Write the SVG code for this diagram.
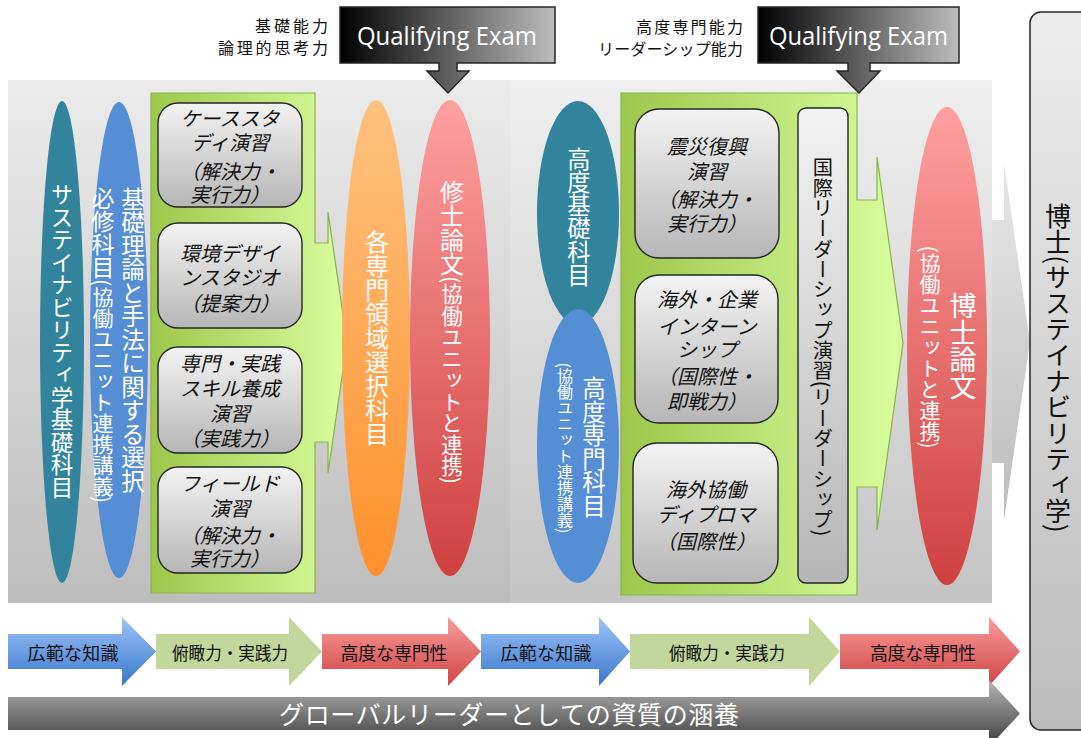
<svg xmlns="http://www.w3.org/2000/svg" width="1081" height="738" viewBox="0 0 1081 738">
<defs>
<linearGradient id="gPanelL" x1="0" y1="0" x2="0" y2="1"><stop offset="0" stop-color="#ebebeb"/><stop offset="1" stop-color="#bdbdbd"/></linearGradient>
<linearGradient id="gPanelR" x1="0" y1="0" x2="0" y2="1"><stop offset="0" stop-color="#efefef"/><stop offset="1" stop-color="#c4c4c4"/></linearGradient>
<linearGradient id="gBig" x1="0" y1="0" x2="0" y2="1"><stop offset="0" stop-color="#e6e6e6"/><stop offset="1" stop-color="#bcbcbc"/></linearGradient>
<linearGradient id="gGreen" x1="0" y1="0" x2="1" y2="0"><stop offset="0" stop-color="#9dc74c"/><stop offset="1" stop-color="#d9ff9f"/></linearGradient>
<linearGradient id="gBox" x1="0" y1="0" x2="0" y2="1"><stop offset="0" stop-color="#f3f3f3"/><stop offset="1" stop-color="#b6b6b6"/></linearGradient>
<linearGradient id="gQE" x1="0" y1="0" x2="1" y2="0"><stop offset="0" stop-color="#000000"/><stop offset="1" stop-color="#bdbdbd"/></linearGradient>
<linearGradient id="gRed" x1="0" y1="0" x2="0" y2="1"><stop offset="0" stop-color="#ffa0a0"/><stop offset="1" stop-color="#cf4040"/></linearGradient>
<linearGradient id="gOrange" x1="0" y1="0" x2="0" y2="1"><stop offset="0" stop-color="#ffc27f"/><stop offset="1" stop-color="#ff902c"/></linearGradient>
<linearGradient id="gBlueA" x1="0" y1="0" x2="0" y2="1"><stop offset="0" stop-color="#9cc3f7"/><stop offset="1" stop-color="#3a78cc"/></linearGradient>
<linearGradient id="gRedA" x1="0" y1="0" x2="0" y2="1"><stop offset="0" stop-color="#fa9c9c"/><stop offset="1" stop-color="#cf4444"/></linearGradient>
<linearGradient id="gGreyA" x1="0" y1="0" x2="0" y2="1"><stop offset="0" stop-color="#b6b6b6"/><stop offset="1" stop-color="#3a3a3a"/></linearGradient>
<linearGradient id="gHak" x1="0" y1="0" x2="0" y2="1"><stop offset="0" stop-color="#ececec"/><stop offset="1" stop-color="#bcbcbc"/></linearGradient>
</defs>
<style>
text{font-family:"Noto Sans CJK JP","Noto Sans",sans-serif;}
.v{writing-mode:vertical-rl;text-anchor:middle;fill:#ffffff;}
.vs{writing-mode:vertical-rl;text-anchor:start;fill:#ffffff;}
.bt{font-style:italic;font-size:20px;text-anchor:middle;dominant-baseline:central;fill:#111;}
.box{fill:url(#gBox);stroke:#262626;stroke-width:1.4;}
.green{fill:url(#gGreen);stroke:#8db04a;stroke-width:1.2;}
.qe{fill:url(#gQE);stroke:#262626;stroke-width:1.5;}
.qet{font-family:"Open Sans","Liberation Sans",sans-serif;font-size:25px;fill:#ffffff;}
.lab{font-size:16px;fill:#111;text-anchor:end;dominant-baseline:central;}
.at{font-size:18px;fill:#111;text-anchor:middle;dominant-baseline:central;}
</style>
<rect width="1081" height="738" fill="#ffffff"/>

<g id="connectors">
<path d="M8,220 H1004 V163 L1030,341.5 L1004,520 V463 H8 Z" fill="url(#gBig)"/>
</g>

<g id="panel-left"><rect x="8" y="80" width="502" height="523" fill="url(#gPanelL)"/></g>
<g id="panel-right"><rect x="510" y="80" width="482" height="523" fill="url(#gPanelR)"/></g>

<g id="green-left"><path class="green" d="M151,93 H315 V243 H328 V212 L347,342 L328,473 V442 H315 V593 H151 Z"/></g>
<g id="green-right"><path class="green" d="M621,93 H857 V200 H877 V157 L903,343 L877,530 V487 H857 V595 H621 Z"/></g>

<g id="qe1">
<path class="qe" d="M340,7 H555 V63 H457 V71 H469 L448,93 L427,71 H439 V63 H340 Z"/>
<text class="qet" x="357" y="45" textLength="180" lengthAdjust="spacingAndGlyphs">Qualifying Exam</text>
</g>
<g id="qe1-label">
<text class="lab" x="328" y="25" textLength="73" lengthAdjust="spacing">基礎能力</text>
<text class="lab" x="328" y="47" textLength="110" lengthAdjust="spacing">論理的思考力</text>
</g>
<g id="qe2">
<path class="qe" d="M758,7 H959 V63 H870 V71 H880 L859,93 L837,71 H848 V63 H758 Z"/>
<text class="qet" x="769" y="45" textLength="179" lengthAdjust="spacingAndGlyphs">Qualifying Exam</text>
</g>
<g id="qe2-label">
<text class="lab" x="743" y="26" textLength="107" lengthAdjust="spacing">高度専門能力</text>
<text class="lab" x="743" y="48" textLength="145" lengthAdjust="spacing">リーダーシップ能力</text>
</g>

<g id="sus-basic">
<ellipse cx="62" cy="342" rx="22" ry="241" fill="#31849b"/>
<text class="v" x="62" y="341" font-size="22.5">サステイナビリティ学基礎科目</text>
</g>
<g id="basic-theory">
<ellipse cx="119" cy="340" rx="29" ry="238" fill="#558ed5"/>
<text class="v" x="133" y="340" font-size="23.5">基礎理論と手法に関する選択</text>
<text class="vs" x="103" y="187"><tspan font-size="23">必修科目</tspan><tspan font-size="21">(協働ユニット連携講義)</tspan></text>
</g>

<g id="case-study"><rect class="box" x="158" y="103" width="144" height="104" rx="20"/>
<text class="bt" x="230" y="117">ケーススタ</text><text class="bt" x="230" y="141">ディ演習</text><text class="bt" x="230" y="170">（解決力・</text><text class="bt" x="230" y="193">実行力）</text></g>
<g id="env-design"><rect class="box" x="158" y="223" width="144" height="105" rx="20"/>
<text class="bt" x="230" y="252">環境デザイ</text><text class="bt" x="230" y="276">ンスタジオ</text><text class="bt" x="230" y="302">（提案力）</text></g>
<g id="skill"><rect class="box" x="158" y="347" width="144" height="106" rx="20"/>
<text class="bt" x="230" y="362">専門・実践</text><text class="bt" x="230" y="387">スキル養成</text><text class="bt" x="230" y="412">演習</text><text class="bt" x="230" y="437">（実践力）</text></g>
<g id="field"><rect class="box" x="158" y="467" width="144" height="106" rx="20"/>
<text class="bt" x="230" y="482">フィールド</text><text class="bt" x="230" y="507">演習</text><text class="bt" x="230" y="534">（解決力・</text><text class="bt" x="230" y="557">実行力）</text></g>

<g id="major-elective">
<ellipse cx="376" cy="338" rx="34" ry="238" fill="url(#gOrange)"/>
<text class="v" x="377" y="338" font-size="24">各専門領域選択科目</text>
</g>
<g id="master-thesis">
<ellipse cx="450" cy="338" rx="40" ry="238" fill="url(#gRed)"/>
<text class="vs" x="452" y="180"><tspan font-size="24">修士論文</tspan><tspan font-size="21.5">(協働ユニットと連携)</tspan></text>
</g>

<g id="adv-basic">
<ellipse cx="578" cy="213" rx="41" ry="112" fill="#31849b"/>
<text class="v" x="579" y="217" font-size="23.3">高度基礎科目</text>
</g>
<g id="adv-major">
<ellipse cx="578" cy="446" rx="41" ry="137" fill="#558ed5"/>
<text class="v" x="594" y="447" font-size="23.5">高度専門科目</text>
<text class="v" x="565" y="448" font-size="16">(協働ユニット連携講義)</text>
</g>

<g id="disaster"><rect class="box" x="635" y="109" width="144" height="149" rx="24"/>
<text class="bt" x="707" y="145">震災復興</text><text class="bt" x="707" y="170">演習</text><text class="bt" x="707" y="198">（解決力・</text><text class="bt" x="707" y="222">実行力）</text></g>
<g id="internship"><rect class="box" x="635" y="275" width="143" height="148" rx="24"/>
<text class="bt" x="707" y="298">海外・企業</text><text class="bt" x="707" y="325">インターン</text><text class="bt" x="707" y="348">シップ</text><text class="bt" x="707" y="375">（国際性・</text><text class="bt" x="707" y="400">即戦力）</text></g>
<g id="diploma"><rect class="box" x="633" y="443" width="145" height="140" rx="24"/>
<text class="bt" x="706" y="488">海外協働</text><text class="bt" x="706" y="513">ディプロマ</text><text class="bt" x="706" y="540">（国際性）</text></g>

<g id="leadership"><rect class="box" x="798" y="108" width="50" height="475" rx="8"/>
<text class="v" x="823" y="347" font-size="20.3" fill="#111" style="fill:#111">国際リーダーシップ演習(リーダーシップ)</text></g>

<g id="doctor-thesis">
<ellipse cx="947" cy="346" rx="40" ry="239" fill="url(#gRed)"/>
<text class="v" x="963" y="346" font-size="27">博士論文</text>
<text class="v" x="930" y="347" font-size="21">(協働ユニットと連携)</text>
</g>

<g id="doctor">
<rect x="1030" y="12" width="80" height="718" rx="11" fill="url(#gHak)" stroke="#262626" stroke-width="1.5"/>
<text class="v" x="1058" y="368" font-size="26" style="fill:#111">博士(サステイナビリティ学)</text>
</g>

<g id="flow-1"><path d="M8,634 H122 V617 L156,651.5 L122,686 V669 H8 Z" fill="url(#gBlueA)"/><text class="at" x="73" y="652" textLength="91" lengthAdjust="spacing">広範な知識</text></g>
<g id="flow-2"><path d="M156,634 H289 V617 L322,651.5 L289,686 V669 H156 Z" fill="#c3d69b"/><text class="at" x="230" y="652" textLength="116" lengthAdjust="spacingAndGlyphs">俯瞰力・実践力</text></g>
<g id="flow-3"><path d="M322,634 H448 V617 L481,651.5 L448,686 V669 H322 Z" fill="url(#gRedA)"/><text class="at" x="394" y="652" textLength="107" lengthAdjust="spacing">高度な専門性</text></g>
<g id="flow-4"><path d="M481,634 H599 V617 L630,651.5 L599,686 V669 H481 Z" fill="url(#gBlueA)"/><text class="at" x="546" y="652" textLength="91" lengthAdjust="spacing">広範な知識</text></g>
<g id="flow-5"><path d="M630,634 H809 V617 L840,651.5 L809,686 V669 H630 Z" fill="#c3d69b"/><text class="at" x="727" y="652" textLength="116" lengthAdjust="spacingAndGlyphs">俯瞰力・実践力</text></g>
<g id="flow-6"><path d="M840,634 H989 V617 L1020,651.5 L989,686 V669 H840 Z" fill="url(#gRedA)"/><text class="at" x="923" y="652" textLength="106" lengthAdjust="spacing">高度な専門性</text></g>
<g id="global-leader"><path d="M8,697 H989 V680 L1020,713.5 L989,747 V730 H8 Z" fill="url(#gGreyA)"/><text x="509" y="713" font-size="25" fill="#ffffff" text-anchor="middle" dominant-baseline="central" textLength="460" lengthAdjust="spacing">グローバルリーダーとしての資質の涵養</text></g>
</svg>
